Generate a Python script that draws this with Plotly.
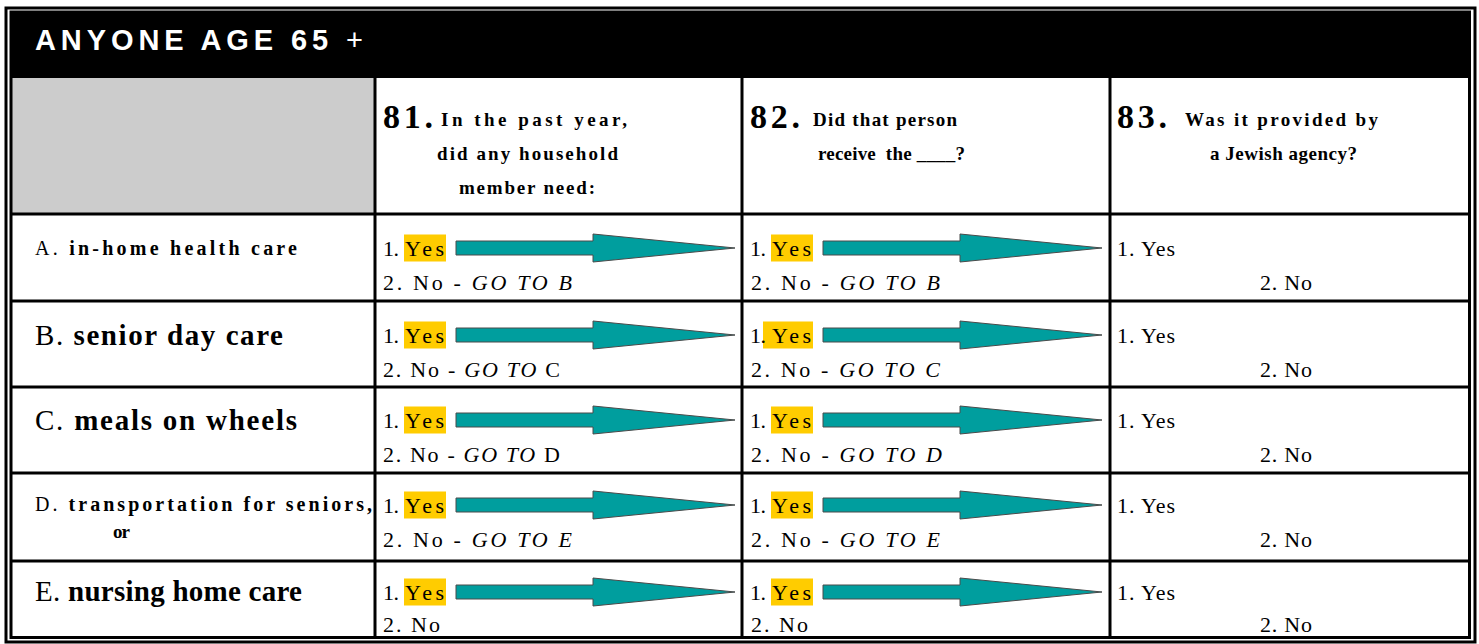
import json
import plotly.graph_objects as go

# ---------------- data (texts of the form) ----------------
title_bold = "ANYONE AGE 65"
title_tail = "+"
question_numbers = ["81.", "82.", "83."]
question_line1 = ["In the past year,", "Did that person", "Was it provided by"]
question_line2 = ["did any household", "receive  the ____?", "a Jewish agency?"]
question_line3 = ["member need:", "", ""]
item_letters = ["A.", "B.", "C.", "D.", "E."]
item_names = ["in-home health care", "senior day care", "meals on wheels",
              "transportation for seniors,", "nursing home care"]
item_extra = ["", "", "", "or", ""]
skip_to_q81 = ["B", "C", "D", "E", ""]
skip_to_q81_italic = [True, False, False, True, True]
skip_to_q82 = ["B", "C", "D", "E", ""]
answer_yes = "Yes"
answer_no = "No"
go_to = "GO TO"

# ---------------- layout geometry / style ----------------
W, H = 1479, 644
SERIF = "Liberation Serif, Times New Roman, serif"
SANS = "Liberation Sans, Arial, sans-serif"
TEAL = "#009E9E"
GOLD = "#FFCC00"
GREY = "#CCCCCC"

col_x = [11, 375, 742, 1110, 1469.5]
row_y = [214, 301, 387, 473, 561, 637.5]
header_bottom = 78
yes_off = [34, 34, 33, 32, 31]
no_off = [68, 68, 67, 66, 63]
label_size = [20, 29, 29, 20, 29]
label_off = [34, 34, 33, 31, 30]
label_width = [262, 248, 262, 337, 267]
yes_box_left = [[29, 29], [29, 21], [29, 29], [29, 29], [29, 29]]
no_width_q81 = [189, 177, 177, 189, 57]
no_width_q82 = [189, 189, 191, 189, 57]
ANS = 22

shapes = []
annotations = []
targets = []


def txt(s, x, y, size, family=SERIF, width=None, color="black"):
    annotations.append(dict(text=s, x=x, y=y, xref="x", yref="y",
                            xanchor="left", yanchor="middle", align="left",
                            showarrow=False, borderpad=0, borderwidth=0,
                            font=dict(size=size, family=family, color=color)))
    targets.append(width)


def line(x0, y0, x1, y1, w=3):
    shapes.append(dict(type="line", x0=x0, y0=y0, x1=x1, y1=y1, xref="x", yref="y",
                       line=dict(color="black", width=w)))


def rect(x0, y0, x1, y1, fill, lw=0, lc="black"):
    shapes.append(dict(type="rect", x0=x0, y0=y0, x1=x1, y1=y1, xref="x", yref="y",
                       fillcolor=fill, line=dict(color=lc, width=lw)))


# black title band and grey corner
rect(col_x[0], 12, col_x[-1], header_bottom, "black")
rect(col_x[0] + 1, header_bottom, col_x[1] - 1, row_y[0] - 1, GREY)

# outer double frame
shapes.append(dict(type="rect", x0=6, y0=8, x1=1475, y1=642, xref="x", yref="y",
                   line=dict(color="black", width=3)))
shapes.append(dict(type="rect", x0=col_x[0], y0=12, x1=col_x[-1], y1=row_y[-1],
                   xref="x", yref="y", line=dict(color="black", width=3)))

# grid
for cx in col_x[1:-1]:
    line(cx, header_bottom, cx, row_y[-1])
for ry in row_y[:-1]:
    line(col_x[0], ry, col_x[-1], ry)

# title
txt(f"<b>{title_bold}</b> {title_tail}", 35, 40, 29, SANS, 328, "white")

# question headers
q_num_x = [383, 750, 1117]
q1_x, q1_w = [441, 813, 1185], [186, 144, 193]
q2_x, q2_w = [437, 818, 1210], [181, 147, 147]
q3_x, q3_w = [459, 0, 0], [136, 0, 0]
for i in range(3):
    txt(f"<b>{question_numbers[i]}</b>", q_num_x[i], 116, 34, SERIF, 50)
    txt(f"<b>{question_line1[i]}</b>", q1_x[i], 119.5, 19, SERIF, q1_w[i])
    txt(f"<b>{question_line2[i]}</b>", q2_x[i], 153, 19, SERIF, q2_w[i])
    if question_line3[i]:
        txt(f"<b>{question_line3[i]}</b>", q3_x[i], 187, 19, SERIF, q3_w[i])


def arrow_path(c, yc):
    x0, xh, xt = c + 81, c + 218, c + 360
    return (f"M {x0},{yc-7} L {xh},{yc-7} L {xh},{yc-14} L {xt},{yc} "
            f"L {xh},{yc+14} L {xh},{yc+7} L {x0},{yc+7} Z")


for r in range(5):
    top = row_y[r]
    # item label
    txt(f"{item_letters[r]} <b>{item_names[r]}</b>", 35, top + label_off[r],
        label_size[r], SERIF, label_width[r])
    if item_extra[r]:
        txt(f"<b>{item_extra[r]}</b>", 113, top + 58, 19, SERIF, 17)
    yc = top + yes_off[r]
    nc = top + no_off[r]
    for k, c in enumerate(col_x[1:3]):
        bl = yes_box_left[r][k]
        rect(c + bl, yc - 13.5, c + 71, yc + 13.5, GOLD)
        shapes.append(dict(type="path", path=arrow_path(c, yc), xref="x", yref="y",
                           fillcolor=TEAL, line=dict(color="#4a4a4a", width=1)))
        txt("1.", c + 8, yc, ANS, SERIF, 16)
        txt(answer_yes, c + 30, yc, ANS, SERIF, 39)
        if k == 0:
            tgt = skip_to_q81[r]
            if tgt:
                tail = f"<i>{go_to} {tgt}</i>" if skip_to_q81_italic[r] else f"<i>{go_to}</i> {tgt}"
                s = f"2. {answer_no} - {tail}"
            else:
                s = f"2. {answer_no}"
            txt(s, c + 8, nc, ANS, SERIF, no_width_q81[r])
        else:
            tgt = skip_to_q82[r]
            s = f"2. {answer_no} - <i>{go_to} {tgt}</i>" if tgt else f"2. {answer_no}"
            txt(s, c + 9, nc, ANS, SERIF, no_width_q82[r])
    # column 83
    txt(f"1. {answer_yes}", col_x[3] + 7, yc, ANS, SERIF, 58)
    txt(f"2. {answer_no}", col_x[3] + 150, nc, ANS, SERIF, 52)

fig = go.Figure()
fig.update_layout(
    width=W, height=H, margin=dict(l=0, r=0, t=0, b=0),
    paper_bgcolor="white", plot_bgcolor="white",
    xaxis=dict(range=[0, W], visible=False, fixedrange=True),
    yaxis=dict(range=[H, 0], visible=False, fixedrange=True),
    shapes=shapes, annotations=annotations, showlegend=False,
)

post = """
document.body.style.margin = '0';
document.body.style.overflow = 'hidden';
var targets = %s;
var gd = document.getElementById('{plot_id}');
gd.querySelectorAll('g.annotation').forEach(function(g){
  var i = parseInt(g.getAttribute('data-index'));
  var w = targets[i];
  if (w === null || w === undefined) return;
  var t = g.querySelector('text');
  if (!t) return;
  var n = t.textContent.length;
  var L = t.getComputedTextLength();
  if (n > 1) { t.style.letterSpacing = ((w - L) / (n - 1)) + 'px'; }
});
""" % json.dumps(targets)

fig.write_html("out.html", config={"displayModeBar": False}, post_script=post)
